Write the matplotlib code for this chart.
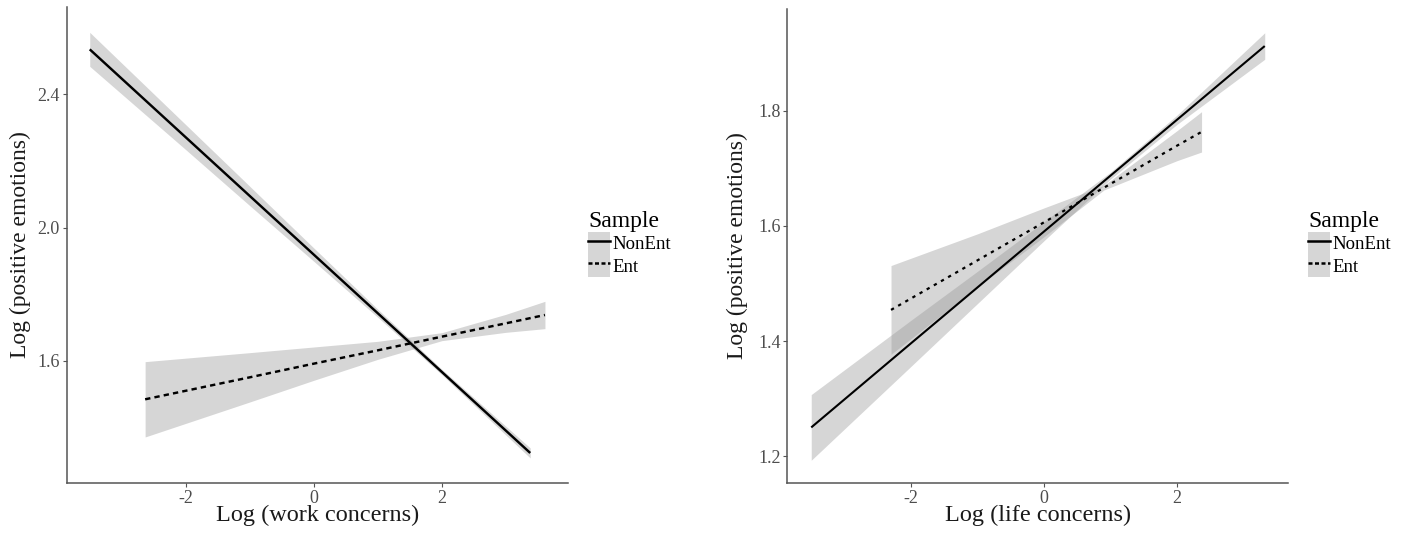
import matplotlib
matplotlib.use("Agg")
import matplotlib.pyplot as plt
from matplotlib.lines import Line2D
from matplotlib.patches import Patch

plt.rcParams['font.family'] = ['Liberation Serif', 'DejaVu Serif']
plt.rcParams['axes.unicode_minus'] = False

# ---------------- data ----------------
samples = ["NonEnt", "Ent"]
legend_title = "Sample"

# Left panel: work concerns
work_x_nonent = [-3.50, -2.0, -1.0, 0.0, 1.0, 2.0, 3.38]
work_fit_nonent = [2.535, 2.271, 2.095, 1.919, 1.743, 1.567, 1.324]
work_lo_nonent = [2.484, 2.234, 2.066, 1.899, 1.731, 1.559, 1.309]
work_hi_nonent = [2.586, 2.309, 2.124, 1.939, 1.755, 1.575, 1.339]

work_x_ent = [-2.635, -1.0, 0.0, 1.0, 2.0, 3.0, 3.61]
work_fit_ent = [1.485, 1.551, 1.592, 1.632, 1.673, 1.713, 1.738]
work_lo_ent = [1.372, 1.477, 1.542, 1.605, 1.661, 1.686, 1.697]
work_hi_ent = [1.598, 1.625, 1.642, 1.659, 1.685, 1.740, 1.779]

# Right panel: life concerns
life_x_nonent = [-3.50, -2.0, -1.0, 0.0, 1.0, 2.0, 3.32]
life_fit_nonent = [1.250, 1.396, 1.493, 1.590, 1.687, 1.784, 1.912]
life_lo_nonent = [1.193, 1.356, 1.465, 1.574, 1.681, 1.776, 1.889]
life_hi_nonent = [1.307, 1.436, 1.521, 1.607, 1.693, 1.792, 1.935]

life_x_ent = [-2.30, -1.0, 0.0, 0.9, 2.0, 2.37]
life_fit_ent = [1.454, 1.540, 1.606, 1.666, 1.739, 1.763]
life_lo_ent = [1.377, 1.494, 1.581, 1.662, 1.713, 1.728]
life_hi_ent = [1.531, 1.586, 1.631, 1.670, 1.765, 1.798]

work_xticks = [-2, 0, 2]
work_yticks = [1.6, 2.0, 2.4]
work_yticklabels = ["1.6", "2.0", "2.4"]
life_xticks = [-2, 0, 2]
life_yticks = [1.2, 1.4, 1.6, 1.8]
life_yticklabels = ["1.2", "1.4", "1.6", "1.8"]

# ---------------- styling ----------------
BAND = '#999999'
BAND_ALPHA = 0.4
AXCOL = '#555555'
TICKCOL = '#4d4d4d'

fig = plt.figure(figsize=(14.12, 5.38), dpi=100)
W, H = 1412, 538


def make_axes(x0, x1, y0, y1):
    return fig.add_axes([x0 / W, 1 - y1 / H, (x1 - x0) / W, (y1 - y0) / H])


def style(ax):
    for s in ['top', 'right']:
        ax.spines[s].set_visible(False)
    for s in ['left', 'bottom']:
        ax.spines[s].set_color(AXCOL)
        ax.spines[s].set_linewidth(1.1)
    ax.tick_params(axis='both', colors=AXCOL, labelcolor=TICKCOL,
                   length=2.75, width=0.8, pad=2.2, labelsize=13)


def add_legend(x, y, dash):
    handles = [
        (Patch(facecolor=BAND, alpha=BAND_ALPHA, edgecolor='none'),
         Line2D([], [], color='black', lw=1.8)),
        (Patch(facecolor=BAND, alpha=BAND_ALPHA, edgecolor='none'),
         Line2D([], [], color='black', lw=1.8, dashes=dash)),
    ]
    leg = fig.legend(handles, samples, title=legend_title,
                     loc='upper left', bbox_to_anchor=(x / W, 1 - y / H),
                     frameon=False, fontsize=13.5, title_fontsize=17,
                     handlelength=1.15, handleheight=1.45, labelspacing=0.0,
                     handletextpad=0.15, borderpad=0, borderaxespad=0,
                     alignment='left')
    return leg


# ---------------- left panel ----------------
ax1 = make_axes(66.7, 568, 6.7, 483.3)
ax1.fill_between(work_x_nonent, work_lo_nonent, work_hi_nonent,
                 color=BAND, alpha=BAND_ALPHA, lw=0)
ax1.fill_between(work_x_ent, work_lo_ent, work_hi_ent,
                 color=BAND, alpha=BAND_ALPHA, lw=0)
ax1.plot(work_x_nonent, work_fit_nonent, color='black', lw=1.75,
         solid_capstyle='butt')
ax1.plot(work_x_ent, work_fit_ent, color='black', lw=1.75, dashes=(2.2, 1.7))
ax1.set_xlim(-3.86, 3.97)
ax1.set_ylim(1.233, 2.663)
ax1.set_xticks(work_xticks)
ax1.set_xticklabels([str(t) for t in work_xticks])
ax1.set_yticks(work_yticks)
ax1.set_yticklabels(work_yticklabels)
style(ax1)
ax1.set_xlabel("Log (work concerns)", fontsize=17.5, color='#1a1a1a')
ax1.set_ylabel("Log (positive emotions)", fontsize=17, color='#1a1a1a')
ax1.xaxis.set_label_coords(0.5, -0.045)
ax1.yaxis.set_label_coords(-0.072, 0.5)

# ---------------- right panel ----------------
ax2 = make_axes(787.3, 1288, 8.6, 483.3)
ax2.fill_between(life_x_nonent, life_lo_nonent, life_hi_nonent,
                 color=BAND, alpha=BAND_ALPHA, lw=0)
ax2.fill_between(life_x_ent, life_lo_ent, life_hi_ent,
                 color=BAND, alpha=BAND_ALPHA, lw=0)
ax2.plot(life_x_nonent, life_fit_nonent, color='black', lw=1.5,
         solid_capstyle='butt')
ax2.plot(life_x_ent, life_fit_ent, color='black', lw=1.6, dashes=(1.5, 2.2))
ax2.set_xlim(-3.86, 3.67)
ax2.set_ylim(1.153, 1.977)
ax2.set_xticks(life_xticks)
ax2.set_xticklabels([str(t) for t in life_xticks])
ax2.set_yticks(life_yticks)
ax2.set_yticklabels(life_yticklabels)
style(ax2)
ax2.set_xlabel("Log (life concerns)", fontsize=17.5, color='#1a1a1a')
ax2.set_ylabel("Log (positive emotions)", fontsize=17, color='#1a1a1a')
ax2.xaxis.set_label_coords(0.5, -0.045)
ax2.yaxis.set_label_coords(-0.078, 0.5)

# ---------------- legends ----------------
add_legend(588, 211, (1.6, 1.0))
add_legend(1308, 211, (1.6, 1.0))

fig.savefig("out.png", dpi=100, facecolor='white')
